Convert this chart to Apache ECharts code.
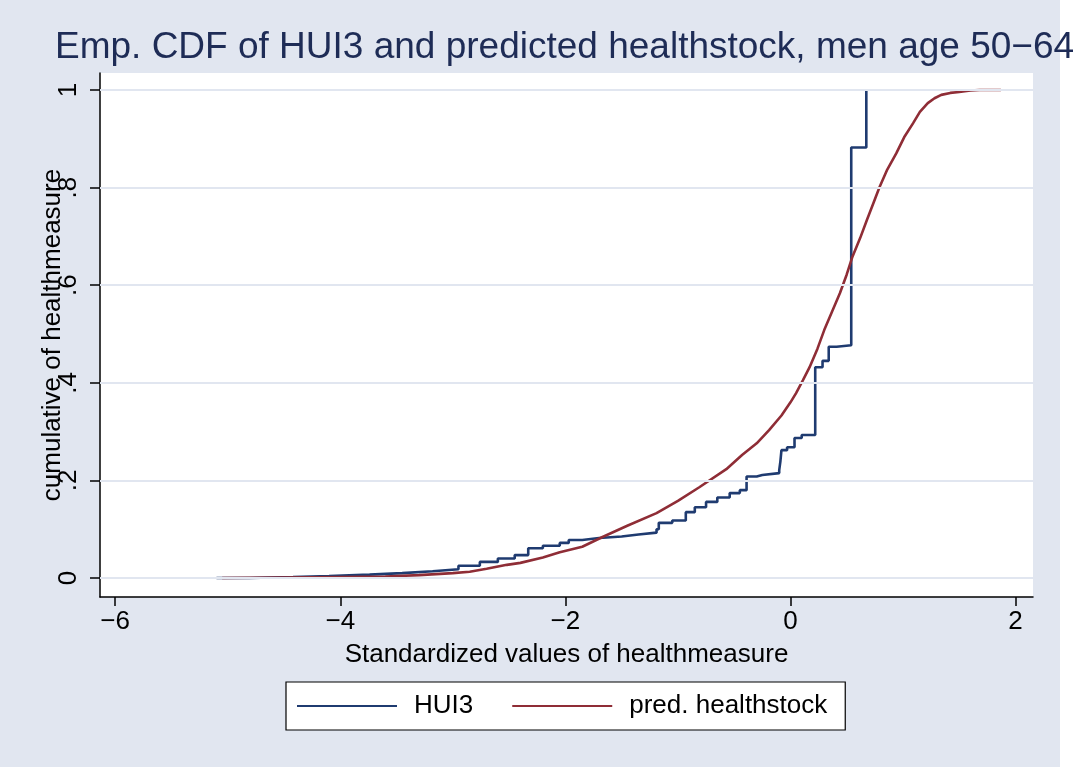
<!DOCTYPE html>
<html><head><meta charset="utf-8">
<script src="https://cdn.jsdelivr.net/npm/echarts@6/dist/echarts.min.js"></script>
<style>html,body{margin:0;padding:0;background:#fff}#c{width:1082px;height:767px}</style>
</head><body><div id="c"></div>
<script>
const titleText = 'Emp. CDF of HUI3 and predicted healthstock, men age 50\u221264';
const xAxisTitle = 'Standardized values of healthmeasure';
const yAxisTitle = 'cumulative of healthmeasure';
const seriesNames = ['HUI3', 'pred. healthstock'];
const xTickValues = [-6, -4, -2, 0, 2];
const xTickLabels = ['\u22126', '\u22124', '\u22122', '0', '2'];
const yTickValues = [0, 0.2, 0.4, 0.6, 0.8, 1];
const yTickLabels = ['0', '.2', '.4', '.6', '.8', '1'];

// HUI3 empirical CDF: x at each jump, cumulative value after the jump
const hui3X = [-5.10, -4.80, -4.42, -4.10, -3.74, -3.45, -3.18, -2.95, -2.76, -2.60, -2.45, -2.33, -2.20, -2.05, -1.97, -1.85, -1.70, -1.50, -1.35, -1.19, -1.17, -1.05, -0.93, -0.85, -0.75, -0.65, -0.54, -0.45, -0.39, -0.30, -0.25, -0.10, -0.09, -0.08, -0.03, 0.036, 0.10, 0.22, 0.285, 0.34, 0.41, 0.54, 0.674];
const hui3Y = [0.000, 0.002, 0.004, 0.007, 0.010, 0.014, 0.018, 0.025, 0.033, 0.040, 0.047, 0.061, 0.066, 0.072, 0.078, 0.082, 0.085, 0.089, 0.093, 0.100, 0.113, 0.118, 0.135, 0.145, 0.156, 0.165, 0.174, 0.180, 0.208, 0.211, 0.215, 0.221, 0.238, 0.262, 0.268, 0.287, 0.293, 0.432, 0.445, 0.474, 0.477, 0.882, 1.000];

// predicted healthstock CDF
const predX = [-5.05, -4.50, -4.00, -3.60, -3.30, -3.00, -2.85, -2.70, -2.52, -2.40, -2.20, -2.05, -1.85, -1.67, -1.45, -1.19, -1.00, -0.81, -0.57, -0.43, -0.30, -0.19, -0.08, 0.00, 0.05, 0.11, 0.17, 0.24, 0.30, 0.37, 0.44, 0.50, 0.55, 0.62, 0.68, 0.74, 0.79, 0.86, 0.94, 1.01, 1.09, 1.15, 1.22, 1.28, 1.34, 1.42, 1.50, 1.60, 1.68, 1.87];
const predY = [0.000, 0.001, 0.002, 0.003, 0.006, 0.010, 0.013, 0.019, 0.027, 0.031, 0.042, 0.053, 0.064, 0.084, 0.107, 0.133, 0.158, 0.186, 0.223, 0.252, 0.276, 0.303, 0.333, 0.360, 0.379, 0.405, 0.432, 0.470, 0.508, 0.546, 0.584, 0.622, 0.658, 0.697, 0.734, 0.770, 0.800, 0.837, 0.870, 0.903, 0.932, 0.955, 0.973, 0.983, 0.990, 0.994, 0.996, 0.999, 1.000, 1.000];

const hui3Data = hui3X.map((x, i) => [x, hui3Y[i]]);
const predData = predX.map((x, i) => [x, predY[i]]);

const chart = echarts.init(document.getElementById('c'), null, {renderer: 'canvas'});
const FONT = 'Liberation Sans';
chart.setOption({
  animation: false,
  textStyle: {fontFamily: FONT},
  graphic: [{
    type: 'rect', z: -100, silent: true,
    shape: {x: 0, y: 0, width: 1060, height: 767},
    style: {fill: '#E1E6F0'}
  }],
  title: {
    text: titleText, left: 50, top: 24,
    textStyle: {fontSize: 37, fontWeight: 'normal', color: '#1E2C56', fontFamily: FONT}
  },
  grid: {left: 100, right: 49, top: 73, bottom: 170, show: true, backgroundColor: '#ffffff', borderWidth: 0},
  legend: {
    data: seriesNames, left: 286, top: 682, orient: 'horizontal', icon: 'rect',
    padding: [11, 18, 11, 11], itemGap: 39, itemWidth: 100, itemHeight: 2,
    borderColor: '#000', borderWidth: 1.2, backgroundColor: '#fff',
    textStyle: {fontSize: 26, color: '#000', fontFamily: FONT, padding: [0, 0, 0, 12]}
  },
  xAxis: {
    type: 'value', min: -6.135, max: 2.155,
    axisLine: {show: true, onZero: false, lineStyle: {color: '#000', width: 1.5}},
    axisTick: {show: true, length: 9, customValues: xTickValues, lineStyle: {color: '#000', width: 1.5}},
    axisLabel: {customValues: xTickValues, formatter: v => xTickLabels[xTickValues.indexOf(v)], fontSize: 26, color: '#000', margin: 12, fontFamily: FONT},
    splitLine: {show: false},
    name: xAxisTitle, nameLocation: 'middle', nameGap: 45,
    nameTextStyle: {fontSize: 26, color: '#000', fontFamily: FONT}
  },
  yAxis: {
    type: 'value', min: -0.0389, max: 1.0348,
    axisLine: {show: true, onZero: false, lineStyle: {color: '#000', width: 1.5}},
    axisTick: {show: true, length: 10, customValues: yTickValues, lineStyle: {color: '#000', width: 1.5}},
    axisLabel: {customValues: yTickValues, formatter: v => yTickLabels[yTickValues.indexOf(v)], rotate: 90, fontSize: 26, color: '#000', margin: 18, fontFamily: FONT},
    splitLine: {show: false},
    name: yAxisTitle, nameLocation: 'middle', nameGap: 34, nameRotate: 90, nameMoveOverlap: false,
    nameTextStyle: {fontSize: 26, color: '#000', fontFamily: FONT}
  },
  series: [
    {
      type: 'line', name: '_grid', data: [], z: 1, silent: true, symbol: 'none',
      markLine: {
        silent: true, symbol: 'none', label: {show: false},
        lineStyle: {color: '#E1E6F0', width: 2, type: 'solid'},
        data: yTickValues.map(v => ({yAxis: v}))
      }
    },
    {
      type: 'line', name: seriesNames[0], data: hui3Data, step: 'end', symbol: 'none', z: 3,
      lineStyle: {color: '#1F3B70', width: 2.6}, itemStyle: {color: '#1F3B70'}
    },
    {
      type: 'line', name: seriesNames[1], data: predData, symbol: 'none', z: 4,
      lineStyle: {color: '#8F2D36', width: 2.6}, itemStyle: {color: '#8F2D36'}
    }
  ]
});
</script></body></html>
